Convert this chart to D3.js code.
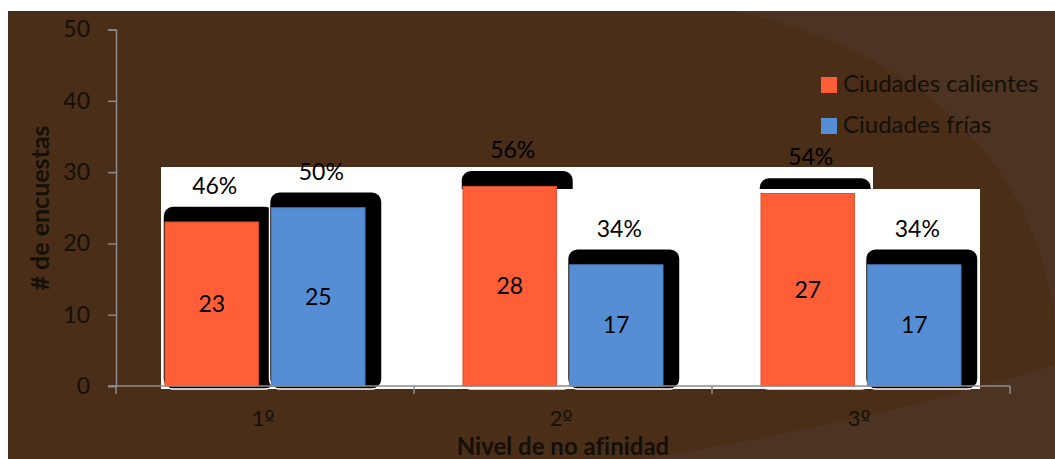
<!DOCTYPE html>
<html>
<head>
<meta charset="utf-8">
<script src="https://cdn.jsdelivr.net/npm/d3@7"></script>
<style>
  html, body { margin: 0; padding: 0; background: #ffffff; }
  svg { display: block; }
  text { font-family: Lato, "Noto Sans", sans-serif; font-variant-ligatures: none; }
</style>
</head>
<body>
<svg id="chart" width="1055" height="459"></svg>
<script>
// Survey counts by level of non-affinity
const categories = ["1º", "2º", "3º"];
const seriesNames = ["Ciudades calientes", "Ciudades frías"];
const calientes = [23, 28, 27];
const frias = [25, 17, 17];
const pctCalientes = [46, 56, 54];
const pctFrias = [50, 34, 34];
const yTicks = [0, 10, 20, 30, 40, 50];

const colors = { "Ciudades calientes": "#ff5e36", "Ciudades frías": "#558ed5" };
const edge = { "Ciudades calientes": "#d8502f", "Ciudades frías": "#4a7cbc" };

const rows = categories.map((c, i) => ({
  cat: c,
  bars: [
    { key: seriesNames[0], value: calientes[i], pct: pctCalientes[i] },
    { key: seriesNames[1], value: frias[i], pct: pctFrias[i] }
  ]
}));

const svg = d3.select("#chart");
const W = 1055, H = 459;

// frame background with soft lighter sweeps on the right
svg.append("rect").attr("x", 8).attr("y", 11).attr("width", W - 8).attr("height", H - 11)
  .attr("fill", "#4a2e18");
const deco = svg.append("g");
deco.append("path")
  .attr("d", "M733,11 C900,45 1040,150 1055,330 L1055,11 Z")
  .attr("fill", "#4d3322");
deco.append("path")
  .attr("d", "M640,459 Q860,425 1055,365 L1055,459 Z")
  .attr("fill", "#4d3322");

const x0 = d3.scaleBand().domain(categories).range([116, 1010]).padding(0);
const x1 = d3.scaleBand().domain(seriesNames).range([49, x0.bandwidth() - 49]).paddingInner(0.123);
const y = d3.scaleLinear().domain([0, 50]).range([386, 29.5]);

const bw = x1.bandwidth();
const barX = (r, b) => x0(r.cat) + x1(b.key);

// white label panels
svg.append("rect").attr("x", 161).attr("y", 167).attr("width", 873 - 161).attr("height", 389 - 167)
  .attr("fill", "#ffffff");

const shadow = (sel, list) => sel.selectAll(null).data(list).join("rect")
  .attr("x", d => d.x - 2)
  .attr("y", d => y(d.b.value) - 16)
  .attr("width", bw + 19)
  .attr("height", d => y(0) - y(d.b.value) + 16 + 3)
  .attr("rx", 10).attr("ry", 10)
  .attr("fill", "#000000")
  .attr("stroke", "#ffffff").attr("stroke-width", 1.5);

const flat = rows.flatMap((r, i) => r.bars.map(b => ({ r, b, i, x: barX(r, b) })));

const gShadowA = svg.append("g");
shadow(gShadowA, flat.filter(d => d.b.key === seriesNames[0] || d.i === 0));

svg.append("rect").attr("x", 400).attr("y", 189).attr("width", 980 - 400).attr("height", 389 - 189)
  .attr("fill", "#ffffff");

const gShadowB = svg.append("g");
shadow(gShadowB, flat.filter(d => d.b.key === seriesNames[1] && d.i > 0));

// bars
svg.append("g").selectAll("rect").data(flat).join("rect")
  .attr("x", d => d.x)
  .attr("y", d => y(d.b.value))
  .attr("width", bw)
  .attr("height", d => y(0) - y(d.b.value))
  .attr("fill", d => colors[d.b.key])
  .attr("stroke", d => edge[d.b.key]).attr("stroke-width", 1);

// axes
const axisColor = "#8c8c8c";
const yAxis = d3.axisLeft(y).tickValues(yTicks).tickSize(8).tickPadding(18);
const gy = svg.append("g").attr("transform", "translate(116,0)").call(yAxis);
gy.select(".domain").attr("stroke", axisColor).attr("stroke-width", 1.5);
gy.selectAll(".tick line").attr("stroke", axisColor).attr("stroke-width", 1.5);
gy.selectAll(".tick text").attr("fill", "#141008").attr("font-size", 23)
  .attr("font-family", "Lato, sans-serif");

const xAxisG = svg.append("g").attr("transform", "translate(0,386)");
xAxisG.append("line").attr("x1", 108).attr("x2", 1010).attr("y1", 0).attr("y2", 0)
  .attr("stroke", axisColor).attr("stroke-width", 1.5);
const bounds = categories.map(c => x0(c)).concat([x0.range()[1]]);
xAxisG.selectAll(".ctick").data(bounds).join("line")
  .attr("x1", d => d).attr("x2", d => d).attr("y1", 0).attr("y2", 8)
  .attr("stroke", axisColor).attr("stroke-width", 1.5);
const cl = xAxisG.selectAll(".clabel").data(categories).join("text")
  .attr("x", d => x0(d) + x0.bandwidth() / 2 - 2)
  .attr("y", 40)
  .attr("text-anchor", "middle")
  .attr("font-size", 22).attr("fill", "#141008");
// digit in Lato, ordinal sign in a face whose º carries an underline
cl.append("tspan").text(d => d.slice(0, -1));
cl.append("tspan").attr("font-family", "'DejaVu Sans', sans-serif").attr("font-size", 21)
  .text(d => d.slice(-1));

// value labels
svg.append("g").selectAll("text").data(flat).join("text")
  .attr("x", d => d.x + bw / 2)
  .attr("y", d => (y(d.b.value) + y(0)) / 2 + 8)
  .attr("text-anchor", "middle")
  .attr("font-size", 23).attr("fill", "#000")
  .text(d => d.b.value);

svg.append("g").selectAll("text").data(flat).join("text")
  .attr("x", d => d.x + bw / 2 + 3)
  .attr("y", d => y(d.b.value) - 28)
  .attr("text-anchor", "middle")
  .attr("font-size", 23).attr("fill", "#000")
  .text(d => d.b.pct + "%");

// axis titles
svg.append("text")
  .attr("transform", "translate(49,208) rotate(-90)")
  .attr("text-anchor", "middle")
  .attr("font-size", 25).attr("font-weight", "bold").attr("fill", "#141008")
  .text("# de encuestas");
svg.append("text")
  .attr("x", 563).attr("y", 455)
  .attr("text-anchor", "middle")
  .attr("font-size", 24).attr("font-weight", "bold").attr("fill", "#141008")
  .text("Nivel de no afinidad");

// legend
const lg = svg.append("g").selectAll("g").data(seriesNames).join("g")
  .attr("transform", (d, i) => `translate(821,${77 + i * 41})`);
lg.append("rect").attr("width", 16).attr("height", 16).attr("fill", d => colors[d]);
lg.append("text").attr("x", 22).attr("y", 15)
  .attr("font-size", 24).attr("fill", "#141008")
  .text(d => d);
</script>
</body>
</html>
